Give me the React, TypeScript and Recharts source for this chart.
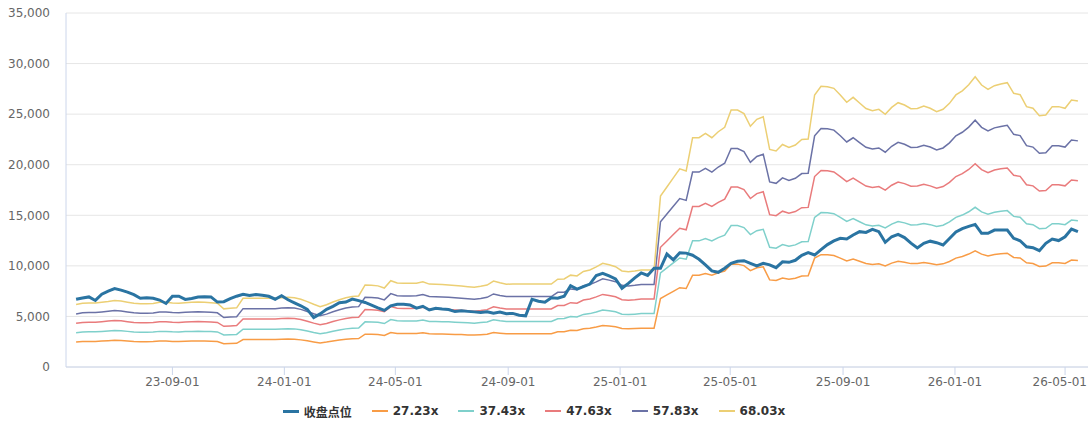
import { LineChart, Line, XAxis, YAxis, CartesianGrid, Legend } from 'recharts'

const DAY = 86400000
// weekly closes, first one on 2023-05-19
const startDate = Date.UTC(2023, 4, 19)
const axisStart = Date.UTC(2023, 4, 8)
const axisEnd = Date.UTC(2026, 4, 26)

const tickDates = [
  '2023-09-01', '2024-01-01', '2024-05-01', '2024-09-01', '2025-01-01',
  '2025-05-01', '2025-09-01', '2026-01-01', '2026-05-01',
]
const yTicks = [0, 5000, 10000, 15000, 20000, 25000, 30000, 35000]

const closeLabel = '收盘点位'
const closeColor = '#2a74a2'
const peMultiples = [27.23, 37.43, 47.63, 57.83, 68.03]
const bandColors = ['#f89c46', '#7fd0cb', '#e97b7c', '#6b72a6', '#eccf74']

// 收盘点位
const close = [
  6690, 6830, 6930, 6580, 7200, 7500, 7750, 7600, 7400, 7150,
  6800, 6850, 6800, 6620, 6280, 7000, 7000, 6680, 6780, 6920,
  6950, 6930, 6420, 6460, 6750, 7000, 7190, 7080, 7170, 7100,
  6990, 6700, 7050, 6650, 6350, 6050, 5700, 4880, 5250, 5700,
  6000, 6350, 6420, 6720, 6560, 6380, 6120, 5850, 5600, 6050,
  6200, 6200, 6140, 5820, 6000, 5640, 5800, 5730, 5680, 5480,
  5550, 5500, 5450, 5380, 5470, 5310, 5430, 5270, 5300, 5120,
  5060, 6700, 6500, 6400, 6850, 6800, 7000, 8040, 7700, 7950,
  8200, 9050, 9260, 9000, 8700, 7780, 8270, 8820, 9300, 9050,
  9760, 9760, 11170, 10600, 11300, 11260, 11050, 10650, 10100, 9500,
  9360, 9760, 10250, 10450, 10510, 10250, 9990, 10250, 10100, 9820,
  10400, 10350, 10550, 11050, 11300, 11070, 11600, 12100, 12460, 12720,
  12660, 13050, 13380, 13300, 13600, 13380, 12330, 12880, 13120, 12800,
  12250, 11780, 12230, 12440, 12290, 12060, 12700, 13350, 13680, 13900,
  14100, 13220, 13220, 13540, 13540, 13540, 12720, 12480, 11890, 11800,
  11500, 12230, 12650, 12500, 12880, 13640, 13380,
]

// earnings per week behind the PE bands
const eps = [
  90.7, 92.6, 93.0, 93.0, 94.1, 95.3, 96.7, 95.8, 94.1, 92.6,
  91.9, 91.9, 92.2, 94.1, 94.1, 93.0, 92.6, 93.5, 94.1, 94.4,
  94.1, 93.5, 92.6, 84.5, 85.3, 86.0, 99.8, 99.8, 99.8, 99.8,
  99.8, 99.8, 100.7, 101.3, 100.7, 98.5, 95.0, 91.1, 87.6, 90.4,
  94.4, 97.8, 100.7, 102.5, 103.2, 119.2, 118.8, 117.9, 114.7, 125.4,
  122.0, 121.6, 121.6, 121.7, 123.9, 120.5, 120.1, 119.8, 119.2, 118.3,
  117.6, 116.6, 115.8, 117.3, 119.1, 124.9, 122.4, 120.4, 120.5, 120.5,
  120.5, 120.5, 120.5, 120.5, 120.5, 127.6, 127.9, 133.5, 132.3, 138.9,
  141.0, 145.5, 150.7, 148.5, 145.8, 139.6, 138.5, 139.6, 141.0, 141.0,
  141.0, 248.4, 261.6, 274.9, 288.1, 284.9, 333.2, 333.2, 339.6, 333.2,
  341.9, 348.4, 373.5, 373.5, 368.2, 349.8, 360.0, 363.8, 316.3, 314.0,
  323.4, 319.0, 322.6, 330.7, 331.3, 395.3, 407.9, 407.2, 405.0, 395.3,
  384.7, 391.9, 383.7, 375.6, 372.6, 374.5, 367.2, 377.3, 384.1, 380.7,
  375.4, 375.7, 379.2, 376.0, 371.0, 374.5, 383.2, 395.4, 401.3, 410.1,
  421.9, 409.8, 403.5, 408.8, 411.3, 413.2, 397.8, 395.7, 378.4, 376.0,
  365.3, 366.3, 378.4, 378.4, 376.0, 388.1, 386.6,
]

const chartData = close.map((c, i) => {
  const row: Record<string, number> = { t: startDate + i * 7 * DAY, close: c }
  peMultiples.forEach((m, k) => {
    row[`pe${k}`] = Math.round(eps[i] * m)
  })
  return row
})

const legendItems = [
  { name: closeLabel, color: closeColor, width: 3 },
  ...peMultiples.map((m, k) => ({ name: `${m.toFixed(2)}x`, color: bandColors[k], width: 2 })),
]

const fontFamily = '"DejaVu Sans", "Noto Sans CJK SC", sans-serif'
const CHART_W = 1090

function DateTick({ x, y, payload }: any) {
  const label = new Date(payload.value).toISOString().slice(2, 10)
  // keep the last label inside the frame, like the original does
  const nearEdge = x + 30 > CHART_W
  return (
    <text
      x={nearEdge ? CHART_W - 3 : x}
      y={y}
      dy="0.71em"
      textAnchor={nearEdge ? 'end' : 'middle'}
      fill="#666666"
      fontSize={12}
      fontFamily={fontFamily}
    >
      {label}
    </text>
  )
}

function BandLegend() {
  return (
    <div
      style={{
        display: 'flex',
        justifyContent: 'center',
        alignItems: 'center',
        height: 22,
        fontFamily,
        fontSize: 12,
        fontWeight: 'bold',
        color: '#333333',
      }}
    >
      {legendItems.map((item) => (
        <div key={item.name} style={{ display: 'flex', alignItems: 'center', marginRight: 20 }}>
          <span
            style={{
              display: 'inline-block',
              width: 16,
              height: item.width,
              background: item.color,
              marginRight: 5,
            }}
          />
          <span>{item.name}</span>
        </div>
      ))}
    </div>
  )
}

export default function App() {
  return (
    <div style={{ position: 'absolute', left: 0, top: 0, width: 1090, height: 430, background: '#fff' }}>
      <LineChart
        width={1090}
        height={430}
        data={chartData}
        margin={{ top: 13, right: 2, bottom: 8, left: 0 }}
      >
        <CartesianGrid vertical={false} stroke="#e6e6e6" />
        <XAxis
          dataKey="t"
          type="number"
          scale="time"
          domain={[axisStart, axisEnd]}
          ticks={tickDates.map((d) => Date.parse(d))}
          height={33}
          stroke="#ccd6eb"
          tickSize={8}
          tick={<DateTick />}
          interval={0}
          allowDataOverflow
        />
        <YAxis
          width={66}
          domain={[0, 35000]}
          ticks={yTicks}
          tickFormatter={(v) => v.toLocaleString('en-US')}
          stroke="#ccd6eb"
          tickLine={false}
          tickMargin={10}
          tick={{ fill: '#666666', fontSize: 12, fontFamily }}
        />
        <Legend verticalAlign="bottom" height={22} content={() => <BandLegend />} />
        {peMultiples.map((m, k) => (
          <Line
            key={m}
            type="linear"
            dataKey={`pe${k}`}
            name={`${m.toFixed(2)}x`}
            stroke={bandColors[k]}
            strokeWidth={1.5}
            dot={false}
            isAnimationActive={false}
          />
        ))}
        <Line
          type="linear"
          dataKey="close"
          name={closeLabel}
          stroke={closeColor}
          strokeWidth={3}
          dot={false}
          isAnimationActive={false}
        />
      </LineChart>
    </div>
  )
}
